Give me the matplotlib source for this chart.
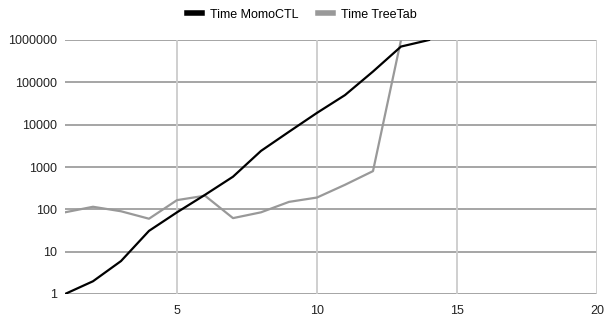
import numpy as np
from matplotlib import pyplot as plt
from matplotlib.ticker import FixedLocator, NullLocator

plt.rcParams['font.family'] = ['Liberation Sans', 'DejaVu Sans']

# data
steps_momo = [1, 2, 3, 4, 5, 6, 7, 8, 9, 10, 11, 12, 13, 14]
time_momo = [1, 2, 6, 31, 85, 220, 590, 2400, 6800, 19000, 50000, 180000, 700000, 1000000]
steps_tree = [1, 2, 3, 4, 5, 6, 7, 8, 9, 10, 11, 12, 13]
time_tree = [85, 115, 90, 60, 165, 210, 62, 85, 150, 190, 380, 800, 1000000]

y_ticks = [1, 10, 100, 1000, 10000, 100000, 1000000]
y_labels = ['1', '10', '100', '1000', '10000', '100000', '1000000']
x_ticks = [5, 10, 15, 20]

fig = plt.figure(figsize=(6.04, 3.21), dpi=100)
ax = fig.add_axes([65/604, 1 - 294/321, (597-65)/604, (294-40)/321])

ax.set_yscale('log')
ax.set_xlim(1, 20)
ax.set_ylim(1, 1000000)

# gridlines: horizontal darker, vertical lighter
for y in y_ticks:
    ax.axhline(y, color='#9e9e9e', linewidth=1.3, zorder=1)
for x in x_ticks:
    ax.axvline(x, color='#cccccc', linewidth=1.3, zorder=1)

ax.plot(steps_tree, time_tree, color='#999999', linewidth=1.6, label='Time TreeTab', zorder=3)
ax.plot(steps_momo, time_momo, color='#000000', linewidth=1.6, label='Time MomoCTL', zorder=4)

ax.yaxis.set_major_locator(FixedLocator(y_ticks))
ax.yaxis.set_minor_locator(NullLocator())
ax.set_yticklabels(y_labels)
ax.xaxis.set_major_locator(FixedLocator(x_ticks))
ax.xaxis.set_minor_locator(NullLocator())
ax.tick_params(length=0, labelsize=9, colors='#222222', pad=6)
ax.tick_params(axis='x', pad=8)
for s in ax.spines.values():
    s.set_visible(False)

handles, labels = ax.get_legend_handles_labels()
fig.legend(handles[::-1], labels[::-1], loc='upper center', bbox_to_anchor=(0.5, 1.0),
           ncol=2, frameon=False, fontsize=9, handlelength=1.2, columnspacing=1.55,
           handletextpad=0.65, borderaxespad=0.3)
for line in fig.legends[0].get_lines():
    line.set_linewidth(4)

fig.savefig('out.png', dpi=100)
